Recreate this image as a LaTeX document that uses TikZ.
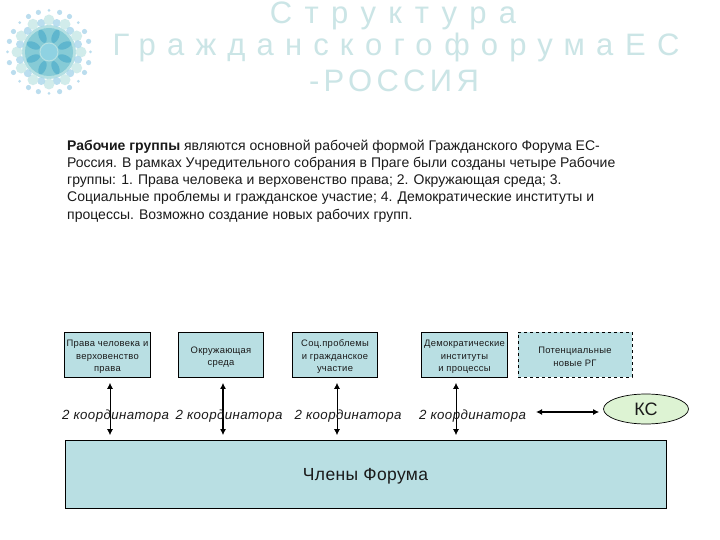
\documentclass[tikz,border=0pt]{standalone}
\usepackage{fontspec}
\setmainfont{Liberation Sans}
\usetikzlibrary{arrows.meta,calc,shapes.geometric}
\definecolor{boxfill}{HTML}{B9DFE3}
\definecolor{kcfill}{HTML}{DDF3D3}
\definecolor{titlecol}{HTML}{CBE5E6}
\definecolor{txt}{HTML}{1A1A1A}
\definecolor{dotblue}{HTML}{BBDDEE}
\definecolor{midblue}{HTML}{A9D6EC}
\definecolor{paleteal}{HTML}{CDEBE9}
\definecolor{ringteal}{HTML}{B5E0E3}
\definecolor{discteal}{HTML}{86CBD6}
\definecolor{petal}{HTML}{5FB6CE}
\definecolor{corecol}{HTML}{8FD2E2}
\newcommand{\tpad}{\rule{0pt}{11.5pt}}
\tikzset{
  x=1pt,y=-1pt,
  wg/.style={draw=black,line width=0.7pt,fill=boxfill,minimum width=85.5pt,minimum height=45pt,inner sep=0pt,align=center,text=txt,font=\fontsize{9.4}{12.5}\selectfont\addfontfeature{LetterSpace=3}},
  wgnew/.style={wg,dashed,minimum width=114pt},
  coord/.style={font=\fontsize{13.3}{16}\selectfont\itshape\addfontfeature{LetterSpace=3},text=txt,inner sep=0pt},
  dbl/.style={{Latex[length=6pt,width=6pt]}-{Latex[length=6pt,width=6pt]},line width=0.9pt,black},
  ttl/.style={text=titlecol,inner sep=0pt,anchor=center,font=\fontsize{31}{38}\selectfont},
}
\begin{document}
\begin{tikzpicture}
\useasboundingbox (0,0) rectangle (720,540);
\fill[white] (0,0) rectangle (720,540);
% logo
\begin{scope}[shift={(49,52)}]
  \foreach \a in {15,30,60,75,105,120,150,165,195,210,240,255,285,300,330,345}{
    \fill[dotblue] (\a:41) circle (2.6);
  }
  \foreach \a in {0,45,...,315}{\fill[dotblue] (\a:41.5) circle (1.5);}
  \fill[ringteal] (0,0) circle (27);
  \foreach \a in {0,30,...,330}{
    \fill[paleteal,opacity=.9] (\a:32) circle (5.5);
    \fill[midblue,opacity=.8] (\a+15:30) circle (4);
  }
  \fill[discteal] (0,0) circle (24);
  \foreach \a in {22.5,67.5,...,337.5}{\fill[petal,rotate=\a] (17,0) ellipse (7 and 3.5);}
  \fill[corecol,draw=ringteal,line width=1pt] (0,0) circle (9);
\end{scope}
% title
\node[ttl] (t1) at (393,16) {\addfontfeature{LetterSpace=40}Структура};
\node[ttl] (t2) at (396,47) {\addfontfeature{LetterSpace=36}Гражданского\kern-8pt{} форума\kern-8pt{} ЕС};
\node[ttl] (t3) at (394,81) {\addfontfeature{LetterSpace=14}-РОССИЯ};
% paragraph
\node[anchor=north west,inner sep=0pt,text=txt,font=\fontsize{14}{17.3}\selectfont,align=left] (para) at (67,139.5)
{\textbf{Рабочие группы} являются основной рабочей формой Гражданского Форума ЕС-\\
Россия. В рамках Учредительного собрания в Праге были созданы четыре Рабочие\\
группы: 1. Права человека и верховенство права; 2. Окружающая среда; 3.\\
Социальные проблемы и гражданское участие; 4. Демократические институты и\\
процессы. Возможно создание новых рабочих групп.};
% boxes
\node[wg] (b1) at (107.5,354.5) {\tpad Права человека и\\верховенство\\права};
\node[wg] (b2) at (221,354.5) {\tpad Окружающая\\среда};
\node[wg] (b3) at (335,354.5) {\tpad Соц.проблемы\\и гражданское\\участие};
\node[wg] (b4) at (464.5,354.5) {\tpad Демократические\\институты\\и процессы};
\node[wgnew] (b5) at (575,354.5) {\tpad Потенциальные\\новые РГ};
\node[draw=black,line width=0.7pt,fill=boxfill,minimum width=601pt,minimum height=68pt,inner sep=0pt,font=\fontsize{17.5}{20}\selectfont\addfontfeature{LetterSpace=2},text=txt] (mem) at (365.5,474) {\rule{0pt}{16pt}Члены Форума};
\node[ellipse,draw=black,line width=0.7pt,fill=kcfill,minimum width=85pt,minimum height=30pt,inner sep=0pt,font=\fontsize{18}{20}\selectfont,text=txt] (ks) at (646,409) {КС};
% connector anchors
\coordinate (a1) at (110,0);
\coordinate (a2) at (223,0);
\coordinate (a3) at (337,0);
\coordinate (a4) at (456,0);
\coordinate (h4) at (536,412);
% arrows
\draw[dbl,shorten <=5.5pt,shorten >=4.5pt] (b1.south -| a1) -- (mem.north -| a1);
\draw[dbl,shorten <=5.5pt,shorten >=4.5pt,line width=1.5pt] (b2.south -| a2) -- (mem.north -| a2);
\draw[dbl,shorten <=5.5pt,shorten >=4.5pt] (b3.south -| a3) -- (mem.north -| a3);
\draw[dbl,shorten <=5.5pt,shorten >=4.5pt] (b4.south -| a4) -- (mem.north -| a4);
\draw[dbl,line width=1.2pt,shorten >=4pt] (h4) -- (ks.west |- h4);
% coordinator labels
\node[coord] (c1) at (115.5,416) {2 координатора};
\node[coord] (c2) at (229,416) {2 координатора};
\node[coord] (c3) at (348,416) {2 координатора};
\node[coord] (c4) at (472.5,416) {2 координатора};
\end{tikzpicture}
\end{document}
